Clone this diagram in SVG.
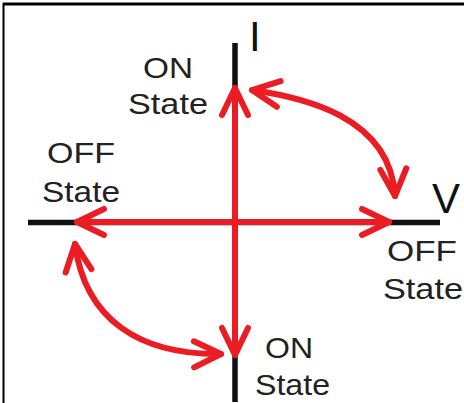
<svg xmlns="http://www.w3.org/2000/svg" width="464" height="403" viewBox="0 0 464 403">
<style>
.lbl{font-family:"Liberation Sans",Arial,sans-serif;font-size:29px;fill:#222}
.ax{font-family:"Liberation Sans",Arial,sans-serif;font-size:42px;fill:#111}
.blk{stroke:#111;stroke-width:5.5;fill:none}
.red{stroke:#ec1c24;stroke-width:6;fill:none;stroke-linecap:round}
</style>
<defs>
<marker id="chev" markerUnits="userSpaceOnUse" markerWidth="60" markerHeight="60" viewBox="-40 -30 60 60" refX="0" refY="0" orient="auto-start-reverse" overflow="visible">
<path d="M-27,-13 L0,0 L-27,13" fill="none" stroke="#ec1c24" stroke-width="6" stroke-linecap="round" stroke-linejoin="round"/>
</marker>
</defs>
<rect x="0" y="0" width="464" height="403" fill="#fff"/>
<g id="frame">
<line x1="3" y1="4" x2="464" y2="4" stroke="#000" stroke-width="3"/>
<line x1="3.5" y1="3" x2="3.5" y2="403" stroke="#000" stroke-width="2"/>
</g>
<g id="axes">
<line class="blk" x1="235" y1="43" x2="235" y2="402"/>
<line class="blk" x1="28" y1="222.5" x2="440" y2="222.5"/>
</g>
<g id="connectors">
<line class="red" x1="235" y1="222" x2="235" y2="88" marker-end="url(#chev)"/>
<line class="red" x1="235" y1="222" x2="235" y2="355" marker-end="url(#chev)"/>
<line class="red" x1="235" y1="222" x2="77" y2="222" marker-end="url(#chev)"/>
<line class="red" x1="235" y1="222" x2="389" y2="222" marker-end="url(#chev)"/>
<path class="red" d="M252,90 C300,97 390,115 395,196" marker-start="url(#chev)" marker-end="url(#chev)"/>
<path class="red" d="M75,244 C85,320 140,355 221,354" marker-start="url(#chev)" marker-end="url(#chev)"/>
</g>
<g id="label-I"><text class="ax" x="249" y="51">I</text></g>
<g id="label-V"><text class="ax" x="432" y="213">V</text></g>
<g id="on-top">
<text class="lbl" x="143" y="78" textLength="50" lengthAdjust="spacingAndGlyphs">ON</text>
<text class="lbl" x="128" y="114" textLength="80" lengthAdjust="spacingAndGlyphs">State</text>
</g>
<g id="off-left">
<text class="lbl" x="47" y="163" textLength="68" lengthAdjust="spacingAndGlyphs">OFF</text>
<text class="lbl" x="42" y="202" textLength="78" lengthAdjust="spacingAndGlyphs">State</text>
</g>
<g id="off-right">
<text class="lbl" x="387" y="261" textLength="70" lengthAdjust="spacingAndGlyphs">OFF</text>
<text class="lbl" x="383" y="299" textLength="80" lengthAdjust="spacingAndGlyphs">State</text>
</g>
<g id="on-bottom">
<text class="lbl" x="265" y="358" textLength="48" lengthAdjust="spacingAndGlyphs">ON</text>
<text class="lbl" x="255" y="395" textLength="75" lengthAdjust="spacingAndGlyphs">State</text>
</g>
</svg>
